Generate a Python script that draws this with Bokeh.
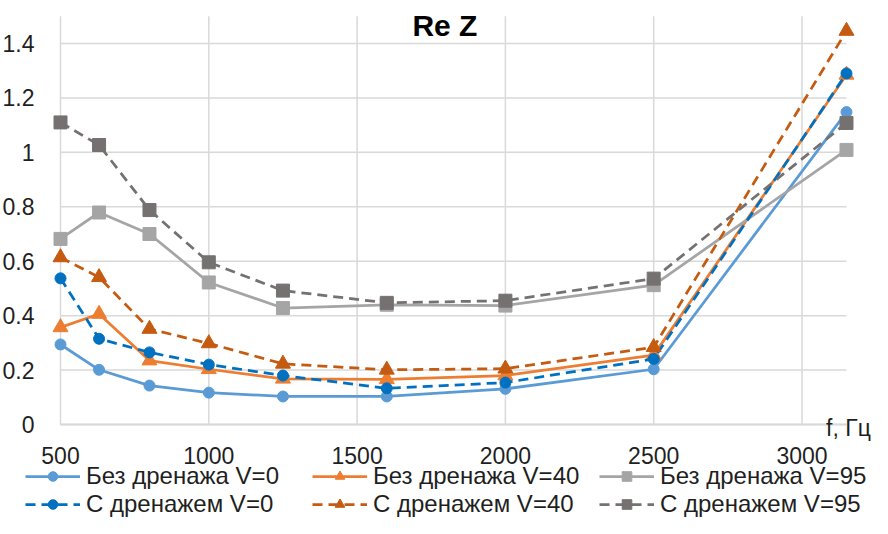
from bokeh.plotting import figure
from bokeh.models import Legend, LegendItem, Label, FixedTicker, Range1d, LinearAxis
from bokeh.embed import file_html
from bokeh.resources import INLINE

# ---- data ----
freq = [500, 630, 800, 1000, 1250, 1600, 2000, 2500, 3150]
bez_v0 = [0.294, 0.201, 0.143, 0.117, 0.103, 0.103, 0.131, 0.203, 1.148]
bez_v40 = [0.357, 0.406, 0.235, 0.203, 0.168, 0.166, 0.180, 0.255, 1.285]
bez_v95 = [0.682, 0.779, 0.700, 0.522, 0.428, 0.440, 0.437, 0.512, 1.009]
s_v0 = [0.537, 0.315, 0.265, 0.220, 0.180, 0.133, 0.154, 0.241, 1.290]
s_v40 = [0.614, 0.541, 0.351, 0.298, 0.223, 0.201, 0.205, 0.284, 1.446]
s_v95 = [1.110, 1.027, 0.788, 0.596, 0.492, 0.447, 0.455, 0.536, 1.108]

labels = ["Без дренажа V=0", "Без дренажа V=40", "Без дренажа V=95",
          "С дренажем V=0", "С дренажем V=40", "С дренажем V=95"]
x_ticks = [500, 1000, 1500, 2000, 2500, 3000]
y_ticks = [0, 0.2, 0.4, 0.6, 0.8, 1.0, 1.2, 1.4]
x_min, x_max = 500, 3150
y_min, y_max = 0, 1.5

series = [bez_v0, bez_v40, bez_v95, s_v0, s_v40, s_v95]
colors = ["#5B9BD5", "#ED7D31", "#A5A5A5", "#0070C0", "#C55A11", "#767171"]
markers = ["circle", "triangle", "square", "circle", "triangle", "square"]
sizes = [11, 15, 13, 11, 15, 13]
dashes = ["solid", "solid", "solid", "10 6", "10 6", "10 6"]

FONT = "Liberation Sans"
TXT = "#1f1f1f"
GRID = "#D9D9D9"

p = figure(width=872, height=518, output_backend="svg", toolbar_location=None,
           x_range=Range1d(297.7, 3237.7), y_range=Range1d(-0.3454, 1.558),
           x_axis_location=None, y_axis_location=None,
           min_border=0, min_border_left=0, min_border_right=0,
           min_border_top=0, min_border_bottom=0)
p.outline_line_color = None
p.background_fill_color = "white"
p.border_fill_color = "white"
p.grid.visible = False

# gridlines limited to the plot area
p.segment(x0=x_ticks, x1=x_ticks, y0=[y_min] * len(x_ticks), y1=[y_max] * len(x_ticks),
          line_color=GRID, line_width=1.5)
p.segment(x0=[x_min] * len(y_ticks), x1=[x_max] * len(y_ticks), y0=y_ticks, y1=y_ticks,
          line_color=GRID, line_width=1.5)

xaxis = LinearAxis(fixed_location=0, bounds=(x_min, x_max),
                   ticker=FixedTicker(ticks=x_ticks))
yaxis = LinearAxis(fixed_location=x_min, ticker=FixedTicker(ticks=y_ticks),
                   major_label_overrides={0: "0", 1.0: "1"})
for ax in (xaxis, yaxis):
    ax.major_tick_line_color = None
    ax.minor_tick_line_color = None
    ax.major_label_text_font = FONT
    ax.major_label_text_font_size = "23px"
    ax.major_label_text_color = TXT
yaxis.axis_line_color = None
xaxis.axis_line_color = GRID
xaxis.axis_line_width = 2
xaxis.major_label_standoff = 16
yaxis.major_label_standoff = 20
p.add_layout(xaxis, "below")
p.add_layout(yaxis, "left")

items = []
for ys, c, m, s, d, lab in zip(series, colors, markers, sizes, dashes, labels):
    ln = p.line(freq, ys, line_color=c, line_width=2.75, line_dash=d)
    sc = p.scatter(freq, ys, marker=m, size=s, fill_color=c, line_color=c)
    items.append(LegendItem(label=lab, renderers=[ln, sc]))

legend = Legend(items=items, orientation="horizontal", ncols=3,
                location=(25, 0), glyph_width=55, glyph_height=24,
                label_standoff=6, spacing=0, padding=0, margin=0,
                border_line_color=None, background_fill_alpha=0,
                label_text_font=FONT, label_text_font_size="24px",
                label_text_color=TXT, label_height=24, label_width=226)
p.add_layout(legend)

title = Label(x=1796, y=1.465, text="Re Z", text_align="center",
              text_baseline="middle", text_font=FONT, text_font_size="30px",
              text_font_style="bold", text_color="black")
p.add_layout(title)

flabel = Label(x=x_max, y=0, text="f, Гц", text_align="center",
               text_baseline="top", x_offset=2, y_offset=10,
               text_font=FONT, text_font_size="23px", text_color=TXT)
p.add_layout(flabel)

open("out.html", "w").write(file_html(p, INLINE))
